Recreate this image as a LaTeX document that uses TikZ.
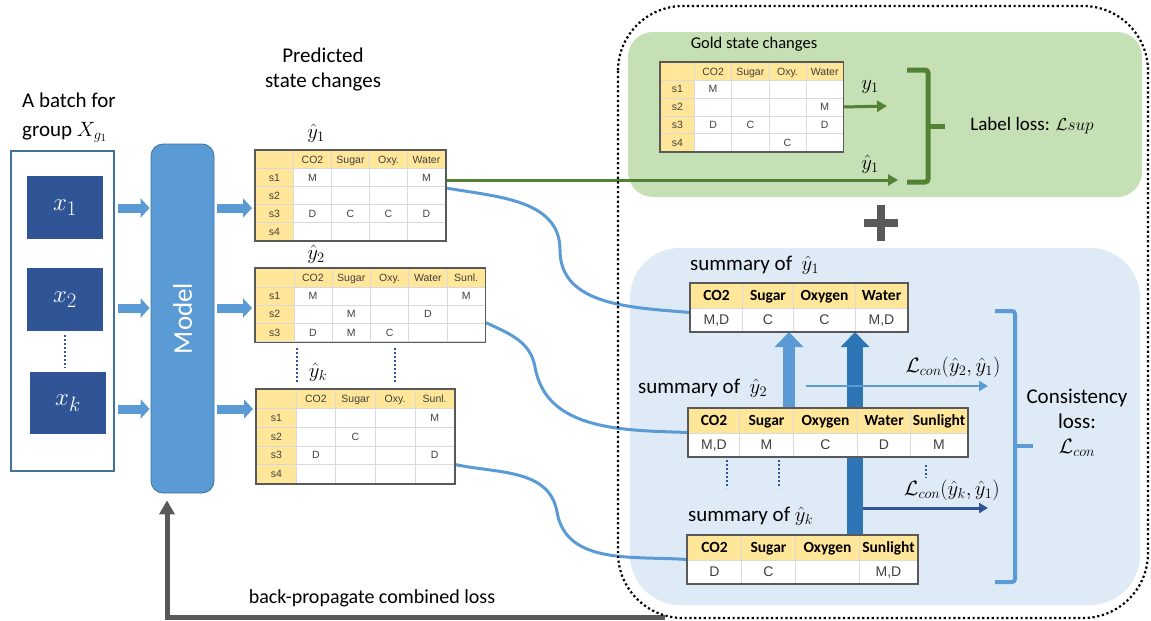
\documentclass[tikz,border=0pt]{standalone}
\usepackage[no-math]{fontspec}
\newfontfamily\calibri{Carlito}
\newfontfamily\arial{Liberation Sans}
\usetikzlibrary{positioning,matrix,arrows.meta}

\definecolor{ltblue}{HTML}{5B9BD5}
\definecolor{midblue}{HTML}{2E75B6}
\definecolor{dkblue}{HTML}{2F5597}
\definecolor{edgeblue}{HTML}{41719C}
\definecolor{lossgreen}{HTML}{548235}
\definecolor{greenfill}{HTML}{C5E0B4}
\definecolor{bluefill}{HTML}{DEEBF7}
\definecolor{backgray}{HTML}{595959}
\definecolor{hdr}{HTML}{FFE699}
\definecolor{gridgray}{HTML}{D9D9D9}
\definecolor{celltext}{HTML}{404040}

\tikzset{
  txt/.style={font=\calibri\fontsize{21}{25}\selectfont, inner sep=0pt},
  mlab/.style={font=\fontsize{21}{25}\selectfont, inner sep=0pt},
  xbox/.style={fill=dkblue, text=white, minimum width=76pt, minimum height=63pt, font=\fontsize{30}{34}\selectfont},
  batchbox/.style={draw=edgeblue, line width=2pt, anchor=north west, minimum width=103pt, minimum height=320pt},
  model/.style={fill=ltblue, draw=edgeblue, line width=0.8pt, rounded corners=12pt, minimum width=63pt, minimum height=349pt},
  fatarrow/.style={ltblue, line width=9pt, -{Triangle[length=9pt,width=19pt]}},
  link/.style={ltblue, line width=3pt},
  garrow/.style={lossgreen, line width=3pt, -{Triangle[length=10pt,width=11pt]}},
  vdots/.style={dkblue, line width=2pt, dash pattern=on 2pt off 2pt},
  ptable/.style 2 args={matrix of nodes, nodes in empty cells, anchor=north west, inner sep=0pt,
    column sep=-0.6pt, row sep=-0.6pt,
    nodes={draw=gridgray, line width=0.6pt, fill=white, inner sep=0pt, anchor=center,
      minimum width=#1, minimum height=#2, text height=7.6pt, text depth=0.4pt,
      text=celltext, font=\arial\fontsize{10.5}{12}\selectfont},
    row 1/.style={nodes={fill=hdr}}, column 1/.style={nodes={fill=hdr}}},
  stable/.style={matrix of nodes, nodes in empty cells, anchor=north west, inner sep=0pt,
    column sep=-0.6pt, row sep=-0.6pt,
    nodes={draw=gridgray, line width=0.6pt, fill=white, inner sep=0pt, anchor=center,
      minimum height=23pt, text height=10pt, text depth=0.5pt,
      text=celltext, font=\arial\fontsize{14}{16}\selectfont},
    row 1/.style={nodes={fill=hdr, minimum height=25pt, text height=11pt, text depth=3pt,
      text=black, font=\calibri\bfseries\fontsize{15.5}{18}\selectfont}}},
  tborder/.style={draw=backgray, line width=1.2pt},
}

\begin{document}
\begin{tikzpicture}[x=1pt, y=-1pt]

  \useasboundingbox (0,0) rectangle (1151,621);

  % Loss regions
  \fill[greenfill, rounded corners=25pt] (628,32) rectangle (1142,197);
  \fill[bluefill, rounded corners=50pt] (630,248) rectangle (1140,605);

  % Batch
  \node[txt, anchor=west, align=left, font=\calibri\fontsize{21}{29}\selectfont] (batchlbl) at (22,117.5) {A batch for\\group $X_{g_1}$};
  \node[batchbox] (batch) at (10,150) {};
  \node[xbox] (x1) at (65,207.5) {$x_1$};
  \node[xbox] (x2) at (65,299.5) {$x_2$};
  \node[xbox, minimum height=62pt] (xk) at (68,403) {$x_k$};
  \draw[vdots] ([yshift=-4pt]x2.south) -- ([yshift=4pt]x2.south |- xk.north);

  % Model
  \node[model] (model) at (182.5,318.5) {};
  \node[txt, text=white, rotate=90, font=\calibri\fontsize{27}{30}\selectfont] (modellbl) at (model) {Model};

  % Arrow levels
  \coordinate (lvA) at (0,208);
  \coordinate (lvB) at (0,308);
  \coordinate (lvK) at (0,409);

  % Predicted tables
  \node[txt, align=center] (predlbl) at (323,70) {Predicted\\state changes};

  \matrix[ptable={38pt}{18pt}] (predA) at (255,150) {
     & CO2 & Sugar & Oxy. & Water \\
    s1 & M & & & M \\
    s2 & & & & \\
    s3 & D & C & C & D \\
    s4 & & & & \\
  };
  \matrix[ptable={38.3pt}{18.3pt}] (predB) at (255,268) {
     & CO2 & Sugar & Oxy. & Water & Sunl. \\
    s1 & M & & & & M \\
    s2 & & M & & D & \\
    s3 & D & M & C & & \\
  };
  \matrix[ptable={39.6pt}{18.8pt}] (predK) at (256,389) {
     & CO2 & Sugar & Oxy. & Sunl. \\
    s1 & & & & M \\
    s2 & & C & & \\
    s3 & D & & & D \\
    s4 & & & & \\
  };

  \node[mlab] (yhA) at (316,133) {$\hat{y}_1$};
  \node[mlab] (yhB) at (316,254) {$\hat{y}_2$};
  \node[mlab] (yhK) at (318,372) {$\hat{y}_k$};
  \draw[vdots] (297,348) -- (297,382);
  \draw[vdots] (395,348) -- (395,382);

  % Input and output arrows
  \foreach \lv in {lvA,lvB,lvK} {
    \draw[fatarrow, shorten <=3pt, shorten >=1pt] (batch.east |- \lv) -- (model.west |- \lv);
  }
  \draw[fatarrow, shorten <=3pt, shorten >=3pt] (model.east |- lvA) -- (predA.west |- lvA);
  \draw[fatarrow, shorten <=3pt, shorten >=3pt] (model.east |- lvB) -- (predB.west |- lvB);
  \draw[fatarrow, shorten <=3pt, shorten >=3pt] (model.east |- lvK) -- (predK.west |- lvK);

  % Gold state changes
  \node[txt, font=\calibri\fontsize{16.5}{20}\selectfont] (goldlbl) at (754,44) {Gold state changes};
  \matrix[ptable={37.2pt}{17.8pt}, column 1/.style={nodes={fill=hdr, minimum width=34pt}}] (gold) at (660,62) {
     & CO2 & Sugar & Oxy. & Water \\
    s1 & M & & & \\
    s2 & & & & M \\
    s3 & D & C & & D \\
    s4 & & & C & \\
  };

  % Label loss
  \coordinate (gtipA) at (887,106);
  \coordinate (gtipB) at (898,180);
  \draw[garrow] (gold.east) -- (gtipA);
  \draw[garrow] (predA.east |- gtipB) -- (gtipB);
  \node[mlab] (ylbl) at (870,87) {$y_1$};
  \node[mlab] (yhlbl) at (870,164) {$\hat{y}_1$};
  \draw[lossgreen, line width=5pt, rounded corners=3pt] (907,70) -- (928,70) -- (928,182) -- (907,182);
  \draw[lossgreen, line width=5pt] (928,126) -- (945,126);
  \node[txt, font=\calibri\fontsize{19}{23}\selectfont] (suplbl) at (1032,126) {Label loss: $\mathcal{L}sup$};

  % Plus
  \draw[backgray, line width=8pt] (864,223) -- (898,223) (881,205) -- (881,241);

  % Summaries
  \matrix[stable, column 1/.style={nodes={minimum width=52pt}}, column 2/.style={nodes={minimum width=51pt}},
    column 3/.style={nodes={minimum width=62pt}}, column 4/.style={nodes={minimum width=52pt}}] (sumA) at (690,283) {
    CO2 & Sugar & Oxygen & Water \\
    M,D & C & C & M,D \\
  };
  \matrix[stable, column 1/.style={nodes={minimum width=51pt}}, column 2/.style={nodes={minimum width=54pt}},
    column 3/.style={nodes={minimum width=64pt}}, column 4/.style={nodes={minimum width=53pt}},
    column 5/.style={nodes={minimum width=57pt}}] (sumB) at (688,408) {
    CO2 & Sugar & Oxygen & Water & Sunlight \\
    M,D & M & C & D & M \\
  };
  \matrix[stable, column 1/.style={nodes={minimum width=54pt}}, column 2/.style={nodes={minimum width=54pt}},
    column 3/.style={nodes={minimum width=64pt}}, column 4/.style={nodes={minimum width=58pt}}] (sumK) at (687,535) {
    CO2 & Sugar & Oxygen & Sunlight \\
    D & C & & M,D \\
  };

  \node[txt, anchor=west] (sumAlbl) at (690,265) {summary of\ \ $\hat{y}_1$};
  \node[txt, anchor=west] (sumBlbl) at (638,388) {summary of\ \ $\hat{y}_2$};
  \node[txt, anchor=west] (sumKlbl) at (688,516) {summary of\ $\hat{y}_k$};
  \draw[vdots] (727,460) -- (727,488);
  \draw[vdots] (779,460) -- (779,488);
  \draw[vdots] (926,465) -- (926,478);

  % Links to summaries
  \coordinate (bendA) at (560,250);
  \coordinate (bendB) at (535,367);
  \coordinate (bendK) at (557,512);
  \draw[link] ([yshift=7.5pt]predA.east) to[out=-10,in=90] (bendA) to[out=-90,in=175] ([yshift=-5pt]sumA.west);
  \draw[link] ([yshift=-17.5pt]predB.east) to[out=-25,in=100] (bendB) to[out=-80,in=178] (sumB.west);
  \draw[link] ([yshift=-28pt]predK.east) to[out=-12,in=100] (bendK) to[out=-80,in=176] (sumK.west);

  % Consistency
  \coordinate (upL) at (789,0);
  \coordinate (upD) at (855,0);
  \coordinate (conB) at (806,386);
  \coordinate (conK) at (863,508);
  \coordinate (conTip) at (988,0);
  \draw[midblue, line width=16pt] (sumK.north -| upD) -- (sumB.south -| upD);
  \draw[midblue, line width=16pt, -{Triangle[length=15pt,width=28pt]}] (sumB.north -| upD) -- (sumA.south -| upD);
  \draw[ltblue, line width=12pt, -{Triangle[length=15pt,width=28pt]}] (sumB.north -| upL) -- (sumA.south -| upL);
  \draw[ltblue, line width=2.5pt, -{Triangle[length=9pt,width=10pt]}] (conB) -- (conB -| conTip);
  \draw[dkblue, line width=3pt, -{Triangle[length=9pt,width=10pt]}] (conK) -- (conK -| conTip);
  \node[mlab] (conBlbl) at (953,367) {$\mathcal{L}_{con}(\hat{y}_2,\hat{y}_1)$};
  \node[mlab] (conKlbl) at (952,490) {$\mathcal{L}_{con}(\hat{y}_k,\hat{y}_1)$};
  \draw[ltblue, line width=4pt, rounded corners=3pt] (995,311) -- (1015,311) -- (1015,582) -- (995,582);
  \draw[ltblue, line width=4pt] (1015,446) -- (1033,446);
  \node[txt, align=center] (conlbl) at (1077,423) {Consistency\\loss:\\$\mathcal{L}_{con}$};

  % Table borders
  \foreach \t in {predA,predB,predK,gold,sumA,sumB,sumK}
    \draw[tborder] (\t.north west) rectangle (\t.south east);

  % Back-propagation
  \coordinate (bpEnd) at (665,617);
  \draw[backgray, line width=5pt, -{Triangle[length=14pt,width=15pt]}, shorten >=7pt] (bpEnd) -| ([xshift=-15.5pt]model.south);
  \node[txt, font=\calibri\fontsize{20}{24}\selectfont] (bplbl) at (372,598) {back-propagate combined loss};

  % Outer frame
  \draw[line width=2.2pt, dash pattern=on 2.2pt off 2.6pt, rounded corners=65pt] (618,6) rectangle (1148,618);

\end{tikzpicture}
\end{document}
